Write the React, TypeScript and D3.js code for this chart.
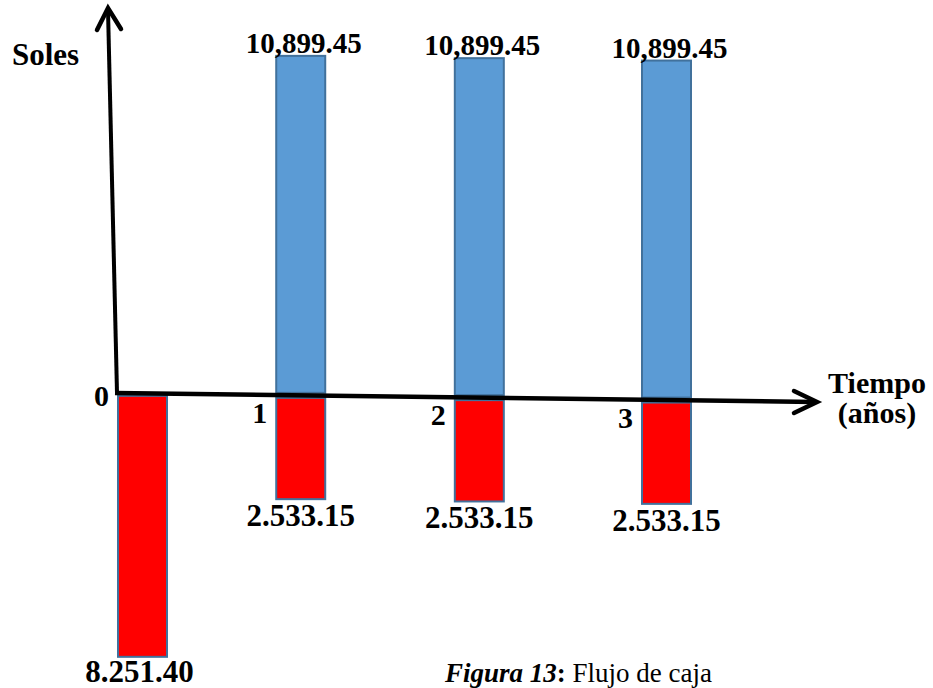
import React from "react";
import * as d3 from "d3";

// Cash-flow diagram: periods, inflows (above the time axis) and outflows (below it)
const periods = [0, 1, 2, 3];
const periodLabels = ["0", "1", "2", "3"];
const inflows = [0, 10899.45, 10899.45, 10899.45];
const outflows = [8251.4, 2533.15, 2533.15, 2533.15];

const yAxisTitle = "Soles";
const xAxisTitle = ["Tiempo", "(años)"];
const captionLead = "Figura 13";
const captionText = " Flujo de caja";

const W = 933;
const H = 688;
const FONT = "'Liberation Serif', 'Times New Roman', serif";
const BLUE = "#5B9BD5";
const RED = "#FF0000";
const OUTLINE = "#41719C";

const fmtIn = d3.format(",.2f");
const fmtOut = (v: number) => d3.format(",.2f")(v).replace(/,/g, ".");

export default function App() {
  // time axis runs from the origin to the arrow tip, drawn with a slight slope
  const origin = { x: 117, y: 393 };
  const tip = { x: 817, y: 402 };
  const slope = (tip.y - origin.y) / (tip.x - origin.x);
  const axisY = (x: number) => origin.y + (x - origin.x) * slope;

  const barW = 49;
  const gap = 2.5;

  const x = d3
    .scalePow()
    .exponent(1.09)
    .domain([d3.min(periods)!, d3.max(periods)!])
    .range([118, 642]);

  // signed bar length: positive values grow upward, negative downward
  const maxIn = d3.max(inflows)!;
  const maxOut = d3.max(outflows)!;
  const h = d3
    .scaleSymlog()
    .constant(8000)
    .domain([-maxOut, 0, maxIn])
    .range([-261, 0, 337]);

  const yTop = { x: 108, y: 8 };

  return (
    <svg
      width={W}
      height={H}
      style={{ position: "absolute", left: 0, top: 0, background: "#fff" }}
      fontFamily={FONT}
    >
      {periods.map((p, i) => {
        const xl = x(p);
        const xc = xl + barW / 2;
        const ay = axisY(xc);
        const hin = inflows[i] > 0 ? h(inflows[i]) : 0;
        const hout = -h(-outflows[i]);
        const inTop = ay - gap - hin;
        const outBottom = ay + gap + hout;
        return (
          <g key={p}>
            {hin > 0 && (
              <rect
                x={xl}
                y={inTop}
                width={barW}
                height={hin}
                fill={BLUE}
                stroke={OUTLINE}
                strokeWidth={2}
              />
            )}
            <rect
              x={xl}
              y={ay + gap}
              width={barW}
              height={hout}
              fill={RED}
              stroke={OUTLINE}
              strokeWidth={2}
            />
            {hin > 0 && (
              <text
                x={xc + 3}
                y={inTop - 3}
                textAnchor="middle"
                fontWeight="bold"
                fontSize={29}
              >
                {fmtIn(inflows[i])}
              </text>
            )}
            <text
              x={i === 0 ? xc - 3 : xc}
              y={Math.min(outBottom + 27, H - 6)}
              textAnchor="middle"
              fontWeight="bold"
              fontSize={31}
            >
              {fmtOut(outflows[i])}
            </text>
            <text
              x={xl - 9}
              y={i === 0 ? axisY(xl) + 13 : axisY(xl) + 28}
              textAnchor="end"
              fontWeight="bold"
              fontSize={30}
            >
              {periodLabels[i]}
            </text>
          </g>
        );
      })}

      {/* vertical axis with arrow */}
      <line
        x1={origin.x}
        y1={origin.y}
        x2={yTop.x}
        y2={yTop.y + 2}
        stroke="#000"
        strokeWidth={4}
      />
      <path
        d={`M${yTop.x - 11},${yTop.y + 22} L${yTop.x},${yTop.y} L${yTop.x + 13},${yTop.y + 21}`}
        fill="none"
        stroke="#000"
        strokeWidth={4.5}
        strokeLinecap="round"
        strokeLinejoin="miter"
      />

      {/* time axis with arrow */}
      <line
        x1={origin.x - 2}
        y1={origin.y}
        x2={tip.x - 2}
        y2={tip.y}
        stroke="#000"
        strokeWidth={4.5}
      />
      <path
        d={`M${tip.x - 23},${tip.y - 11} L${tip.x},${tip.y} L${tip.x - 23},${tip.y + 11}`}
        fill="none"
        stroke="#000"
        strokeWidth={4.5}
        strokeLinecap="round"
        strokeLinejoin="miter"
      />

      <text x={12} y={65} fontWeight="bold" fontSize={31}>
        {yAxisTitle}
      </text>
      <text x={877} y={393} textAnchor="middle" fontWeight="bold" fontSize={30}>
        {xAxisTitle[0]}
      </text>
      <text x={877} y={423} textAnchor="middle" fontWeight="bold" fontSize={30}>
        {xAxisTitle[1]}
      </text>

      <text x={445} y={682} fontSize={27}>
        <tspan fontWeight="bold" fontStyle="italic">
          {captionLead}
        </tspan>
        <tspan fontWeight="bold">:</tspan>
        <tspan>{captionText}</tspan>
      </text>
    </svg>
  );
}
